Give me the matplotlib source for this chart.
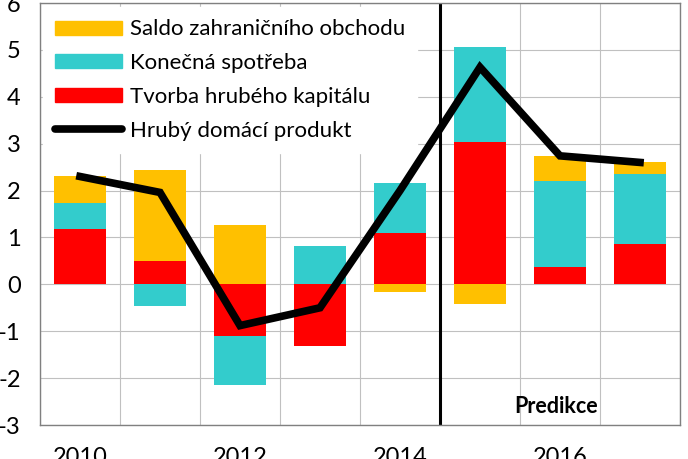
import numpy as np
import matplotlib
matplotlib.use('Agg')
import matplotlib.pyplot as plt
from matplotlib.patches import Patch
from matplotlib.lines import Line2D

plt.rcParams['font.family'] = ['Lato', 'DejaVu Sans']
plt.rcParams['axes.unicode_minus'] = False

years = [2010, 2011, 2012, 2013, 2014, 2015, 2016, 2017]
tick_years = ['2010', '', '2012', '', '2014', '', '2016', '']

# contributions to GDP growth (p.p.)
kapital = [1.17, 0.50, -1.10, -1.31, 1.10, 3.03, 0.36, 0.85]
spotreba = [0.57, -0.47, -1.05, 0.81, 1.07, 2.04, 1.84, 1.50]
saldo = [0.56, 1.93, 1.27, 0.0, -0.16, -0.42, 0.53, 0.26]
hdp = [2.3, 1.96, -0.88, -0.5, 2.0, 4.63, 2.74, 2.6]

labels = ['Saldo zahraničního obchodu', 'Konečná spotřeba',
          'Tvorba hrubého kapitálu', 'Hrubý domácí produkt']
c_saldo = '#FFC000'
c_spotreba = '#33CCCC'
c_kapital = '#FF0000'

fig = plt.figure(figsize=(6.88, 4.59), dpi=100)
ax = fig.add_axes([40/688, 34/459, 640/688, 422/459])

x = np.arange(len(years))
w = 0.66

# stack positives and negatives separately
pos = np.zeros(len(x))
neg = np.zeros(len(x))
for vals, col in [(kapital, c_kapital), (spotreba, c_spotreba), (saldo, c_saldo)]:
    v = np.array(vals)
    bottom = np.where(v >= 0, pos, neg)
    ax.bar(x, v, w, bottom=bottom, color=col, zorder=2)
    pos = pos + np.where(v >= 0, v, 0)
    neg = neg + np.where(v < 0, v, 0)

ax.plot(x, hdp, color='black', lw=5.5, solid_joinstyle='miter', zorder=3)
ax.axvline(4.5, color='black', lw=2.2, zorder=4)
ax.text(5.95, -2.6, 'Predikce', fontsize=15.5, fontweight='bold', ha='center', va='center')

ax.set_xlim(-0.5, 7.5)
ax.set_ylim(-3, 6)
ax.set_yticks(range(-3, 7))
ax.set_xticks(x)
ax.set_xticklabels(tick_years)
ax.set_xticks(np.arange(-0.5, 8, 1), minor=True)
ax.grid(False)
ax.grid(True, which='minor', axis='x', color='#c0c0c0', lw=0.8)
ax.grid(True, which='major', axis='y', color='#c0c0c0', lw=0.8)
ax.set_axisbelow(True)
ax.tick_params(axis='both', which='both', length=0, labelsize=17)
ax.tick_params(axis='y', pad=14)
ax.tick_params(axis='x', pad=16)
for s in ax.spines.values():
    s.set_color('#808080')
    s.set_linewidth(1)
    s.set_zorder(6)

handles = [Patch(color=c_saldo), Patch(color=c_spotreba), Patch(color=c_kapital),
           Line2D([], [], color='black', lw=5.5, solid_capstyle='round')]
leg = ax.legend(handles, labels, loc='upper left', bbox_to_anchor=(0.005, 0.99),
                fontsize=16, frameon=True, fancybox=False, framealpha=1,
                edgecolor='white', facecolor='white', handlelength=3.0,
                handleheight=0.6, handletextpad=0.35, labelspacing=0.62,
                borderpad=0.55, borderaxespad=0)
leg.set_zorder(5)

fig.savefig('out.png', dpi=100)
